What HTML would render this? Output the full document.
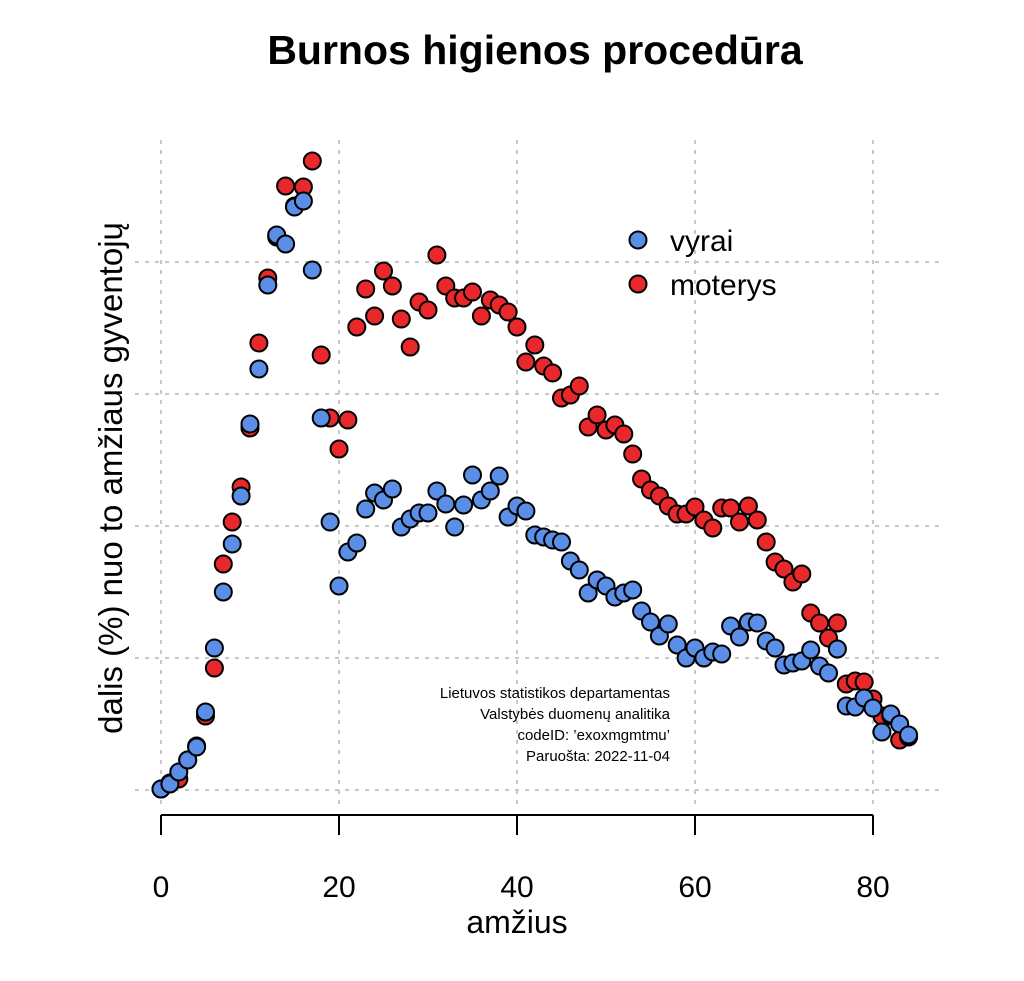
<!DOCTYPE html>
<html><head><meta charset="utf-8"><style>
body{margin:0;background:#fff}
svg text{font-family:"Liberation Sans",Arial,sans-serif}
</style></head><body>
<svg id="s" width="1024" height="976" xmlns="http://www.w3.org/2000/svg">
<rect width="1024" height="976" fill="#fff"/>
<text x="535" y="64" font-size="41" font-weight="bold" text-anchor="middle">Burnos higienos procedūra</text>
<g stroke="#c8c8c8" stroke-width="2" stroke-dasharray="4,6">
<line x1="161" y1="140" x2="161" y2="805"/><line x1="339" y1="140" x2="339" y2="805"/><line x1="517" y1="140" x2="517" y2="805"/><line x1="695" y1="140" x2="695" y2="805"/><line x1="873" y1="140" x2="873" y2="805"/>
<line x1="135" y1="790" x2="940" y2="790"/><line x1="135" y1="658" x2="940" y2="658"/><line x1="135" y1="526" x2="940" y2="526"/><line x1="135" y1="394" x2="940" y2="394"/><line x1="135" y1="262" x2="940" y2="262"/>
</g>
<g stroke="#000" stroke-width="2">
<line x1="161" y1="815" x2="873" y2="815"/>
<line x1="161" y1="815" x2="161" y2="835"/><line x1="339" y1="815" x2="339" y2="835"/><line x1="517" y1="815" x2="517" y2="835"/><line x1="695" y1="815" x2="695" y2="835"/><line x1="873" y1="815" x2="873" y2="835"/>
</g>
<g font-size="30" text-anchor="middle">
<text x="161" y="897">0</text><text x="339" y="897">20</text><text x="517" y="897">40</text><text x="695" y="897">60</text><text x="873" y="897">80</text>
</g>
<text x="517" y="933" font-size="32" text-anchor="middle">amžius</text>
<text transform="translate(122,478) rotate(-90)" font-size="33" text-anchor="middle">dalis (%) nuo to amžiaus gyventojų</text>
<g font-size="15" text-anchor="end">
<text x="670" y="698">Lietuvos statistikos departamentas</text>
<text x="670" y="719">Valstybės duomenų analitika</text>
<text x="670" y="740">codeID: ’exoxmgmtmu’</text>
<text x="670" y="761">Paruošta: 2022-11-04</text>
</g>
<g id="pts" stroke="#000" stroke-width="2"></g>
<circle cx="638" cy="240" r="8.5" fill="#5b8ee6" stroke="#000" stroke-width="2"/>
<circle cx="638" cy="284" r="8.5" fill="#e8282a" stroke="#000" stroke-width="2"/>
<text x="670" y="251" font-size="30">vyrai</text>
<text x="670" y="295" font-size="30">moterys</text>
</svg>
<script>
var b=[789,784,772,760,747,712,648,592,544,496,424,369,285,235,244,207,201,270,418,522,586,552,543,509,493,500,489,527,519,513,513,491,504,527,505,475,500,491,476,517,506,511,535,537,540,542,561,570,593,580,586,597,593,590,611,622,636,624,645,658,648,658,652,654,626,637,622,623,641,648,665,663,661,650,666,673,649,706,707,698,708,732,714,724,735];
var r=[789,783,779,760,746,716,668,564,522,487,428,343,278,237,186,206,187,161,355,418,449,420,327,289,316,271,286,319,347,302,310,255,286,298,298,292,316,300,305,312,327,362,345,366,373,398,395,386,427,415,430,425,434,454,479,490,496,506,514,514,507,520,528,508,508,522,506,520,542,562,569,582,574,613,623,638,623,684,681,682,699,716,716,740,737];
var g=document.getElementById('pts'),h='';
function add(a,c){for(var i=0;i<a.length;i++)h+='<circle cx="'+(161+8.9*i)+'" cy="'+a[i]+'" r="8.5" fill="'+c+'"/>';}
add(r,'#e8282a');add(b,'#5b8ee6');
g.innerHTML=h;
</script>
</body></html>
